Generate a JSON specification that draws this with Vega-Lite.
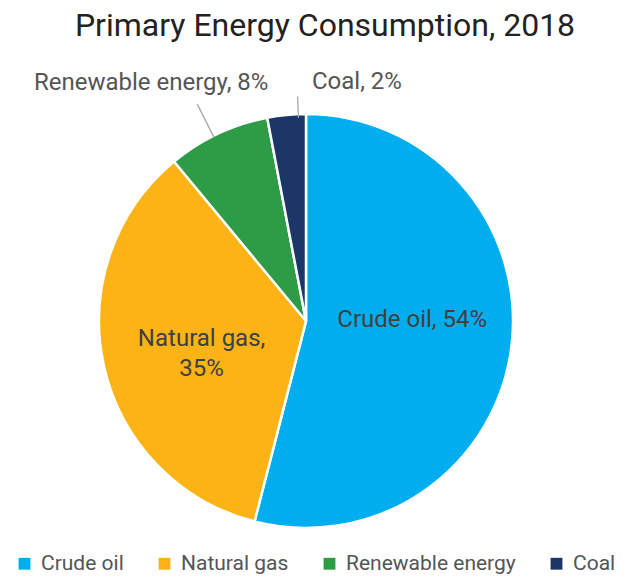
{
  "$schema": "https://vega.github.io/schema/vega-lite/v6.json",
  "width": 612,
  "height": 440,
  "padding": {"left": 0, "top": 10, "right": 15, "bottom": 5},
  "background": "white",
  "title": {"text": "Primary Energy Consumption, 2018", "font": "Roboto", "fontSize": 32, "fontWeight": "normal", "color": "#222222", "offset": 4, "dx": 19},
  "config": {"view": {"stroke": null}, "font": "Roboto"},
  "datasets": {
    "energy": [
      {"source": "Crude oil", "value": 54, "rank": 1, "label": "Crude oil, 54%"},
      {"source": "Natural gas", "value": 35, "rank": 2, "label": "Natural gas,\n35%"},
      {"source": "Renewable energy", "value": 8, "rank": 3, "label": "Renewable energy, 8%"},
      {"source": "Coal", "value": 3, "rank": 4, "label": "Coal, 2%"}
    ],
    "leaderRenewable": [
      {"source": "Renewable energy", "t": 92.6, "t2": 92.61}
    ],
    "leaderCoal": [
      {"source": "Coal", "t": 99.4, "t2": 99.41}
    ]
  },
  "data": {"name": "energy"},
  "encoding": {
    "theta": {"field": "value", "type": "quantitative", "stack": true},
    "order": {"field": "rank", "type": "quantitative"}
  },
  "layer": [
    {
      "mark": {"type": "arc", "outerRadius": 207, "stroke": "white", "strokeWidth": 2.5},
      "encoding": {
        "color": {
          "field": "source", "type": "nominal",
          "scale": {"domain": ["Crude oil", "Natural gas", "Renewable energy", "Coal"], "range": ["#00AEEF", "#FBB316", "#2E9B47", "#1B3667"]},
          "legend": {"orient": "none", "legendX": 14, "legendY": 452, "direction": "horizontal", "title": null, "symbolType": "square", "symbolSize": 140, "symbolStrokeWidth": 0, "labelFont": "Roboto", "labelFontSize": 21, "labelColor": "#555555", "labelLimit": 400, "columnPadding": 30, "labelOffset": 6}
        }
      }
    },
    {
      "mark": {"type": "text", "radius": 107, "fontSize": 24, "color": "#404040", "dy": -14},
      "encoding": {
        "text": {"condition": {"test": "datum.source === 'Crude oil'", "field": "label"}, "value": ""}
      }
    },
    {
      "mark": {"type": "text", "radius": 107, "fontSize": 24, "color": "#404040", "lineBreak": "\n", "lineHeight": 30, "dy": -5},
      "encoding": {
        "text": {"condition": {"test": "datum.source === 'Natural gas'", "field": "label"}, "value": ""}
      }
    },
    {
      "mark": {"type": "text", "radius": 265, "fontSize": 24, "color": "#555555", "dx": -42, "dy": 2},
      "encoding": {
        "text": {"condition": {"test": "datum.source === 'Renewable energy'", "field": "label"}, "value": ""}
      }
    },
    {
      "mark": {"type": "text", "radius": 245, "fontSize": 24, "color": "#555555", "dx": 74, "dy": 5},
      "encoding": {
        "text": {"condition": {"test": "datum.source === 'Coal'", "field": "label"}, "value": ""}
      }
    },
    {
      "data": {"name": "leaderRenewable"},
      "mark": {"type": "arc", "radius": 206, "radius2": 242, "stroke": "#AAAAAA", "strokeWidth": 1.2, "fill": null},
      "encoding": {
        "theta": {"field": "t", "type": "quantitative"},
        "theta2": {"field": "t2"},
        "order": null
      }
    },
    {
      "data": {"name": "leaderCoal"},
      "mark": {"type": "arc", "radius": 204, "radius2": 224, "stroke": "#AAAAAA", "strokeWidth": 1.2, "fill": null},
      "encoding": {
        "theta": {"field": "t", "type": "quantitative"},
        "theta2": {"field": "t2"},
        "order": null
      }
    }
  ]
}
